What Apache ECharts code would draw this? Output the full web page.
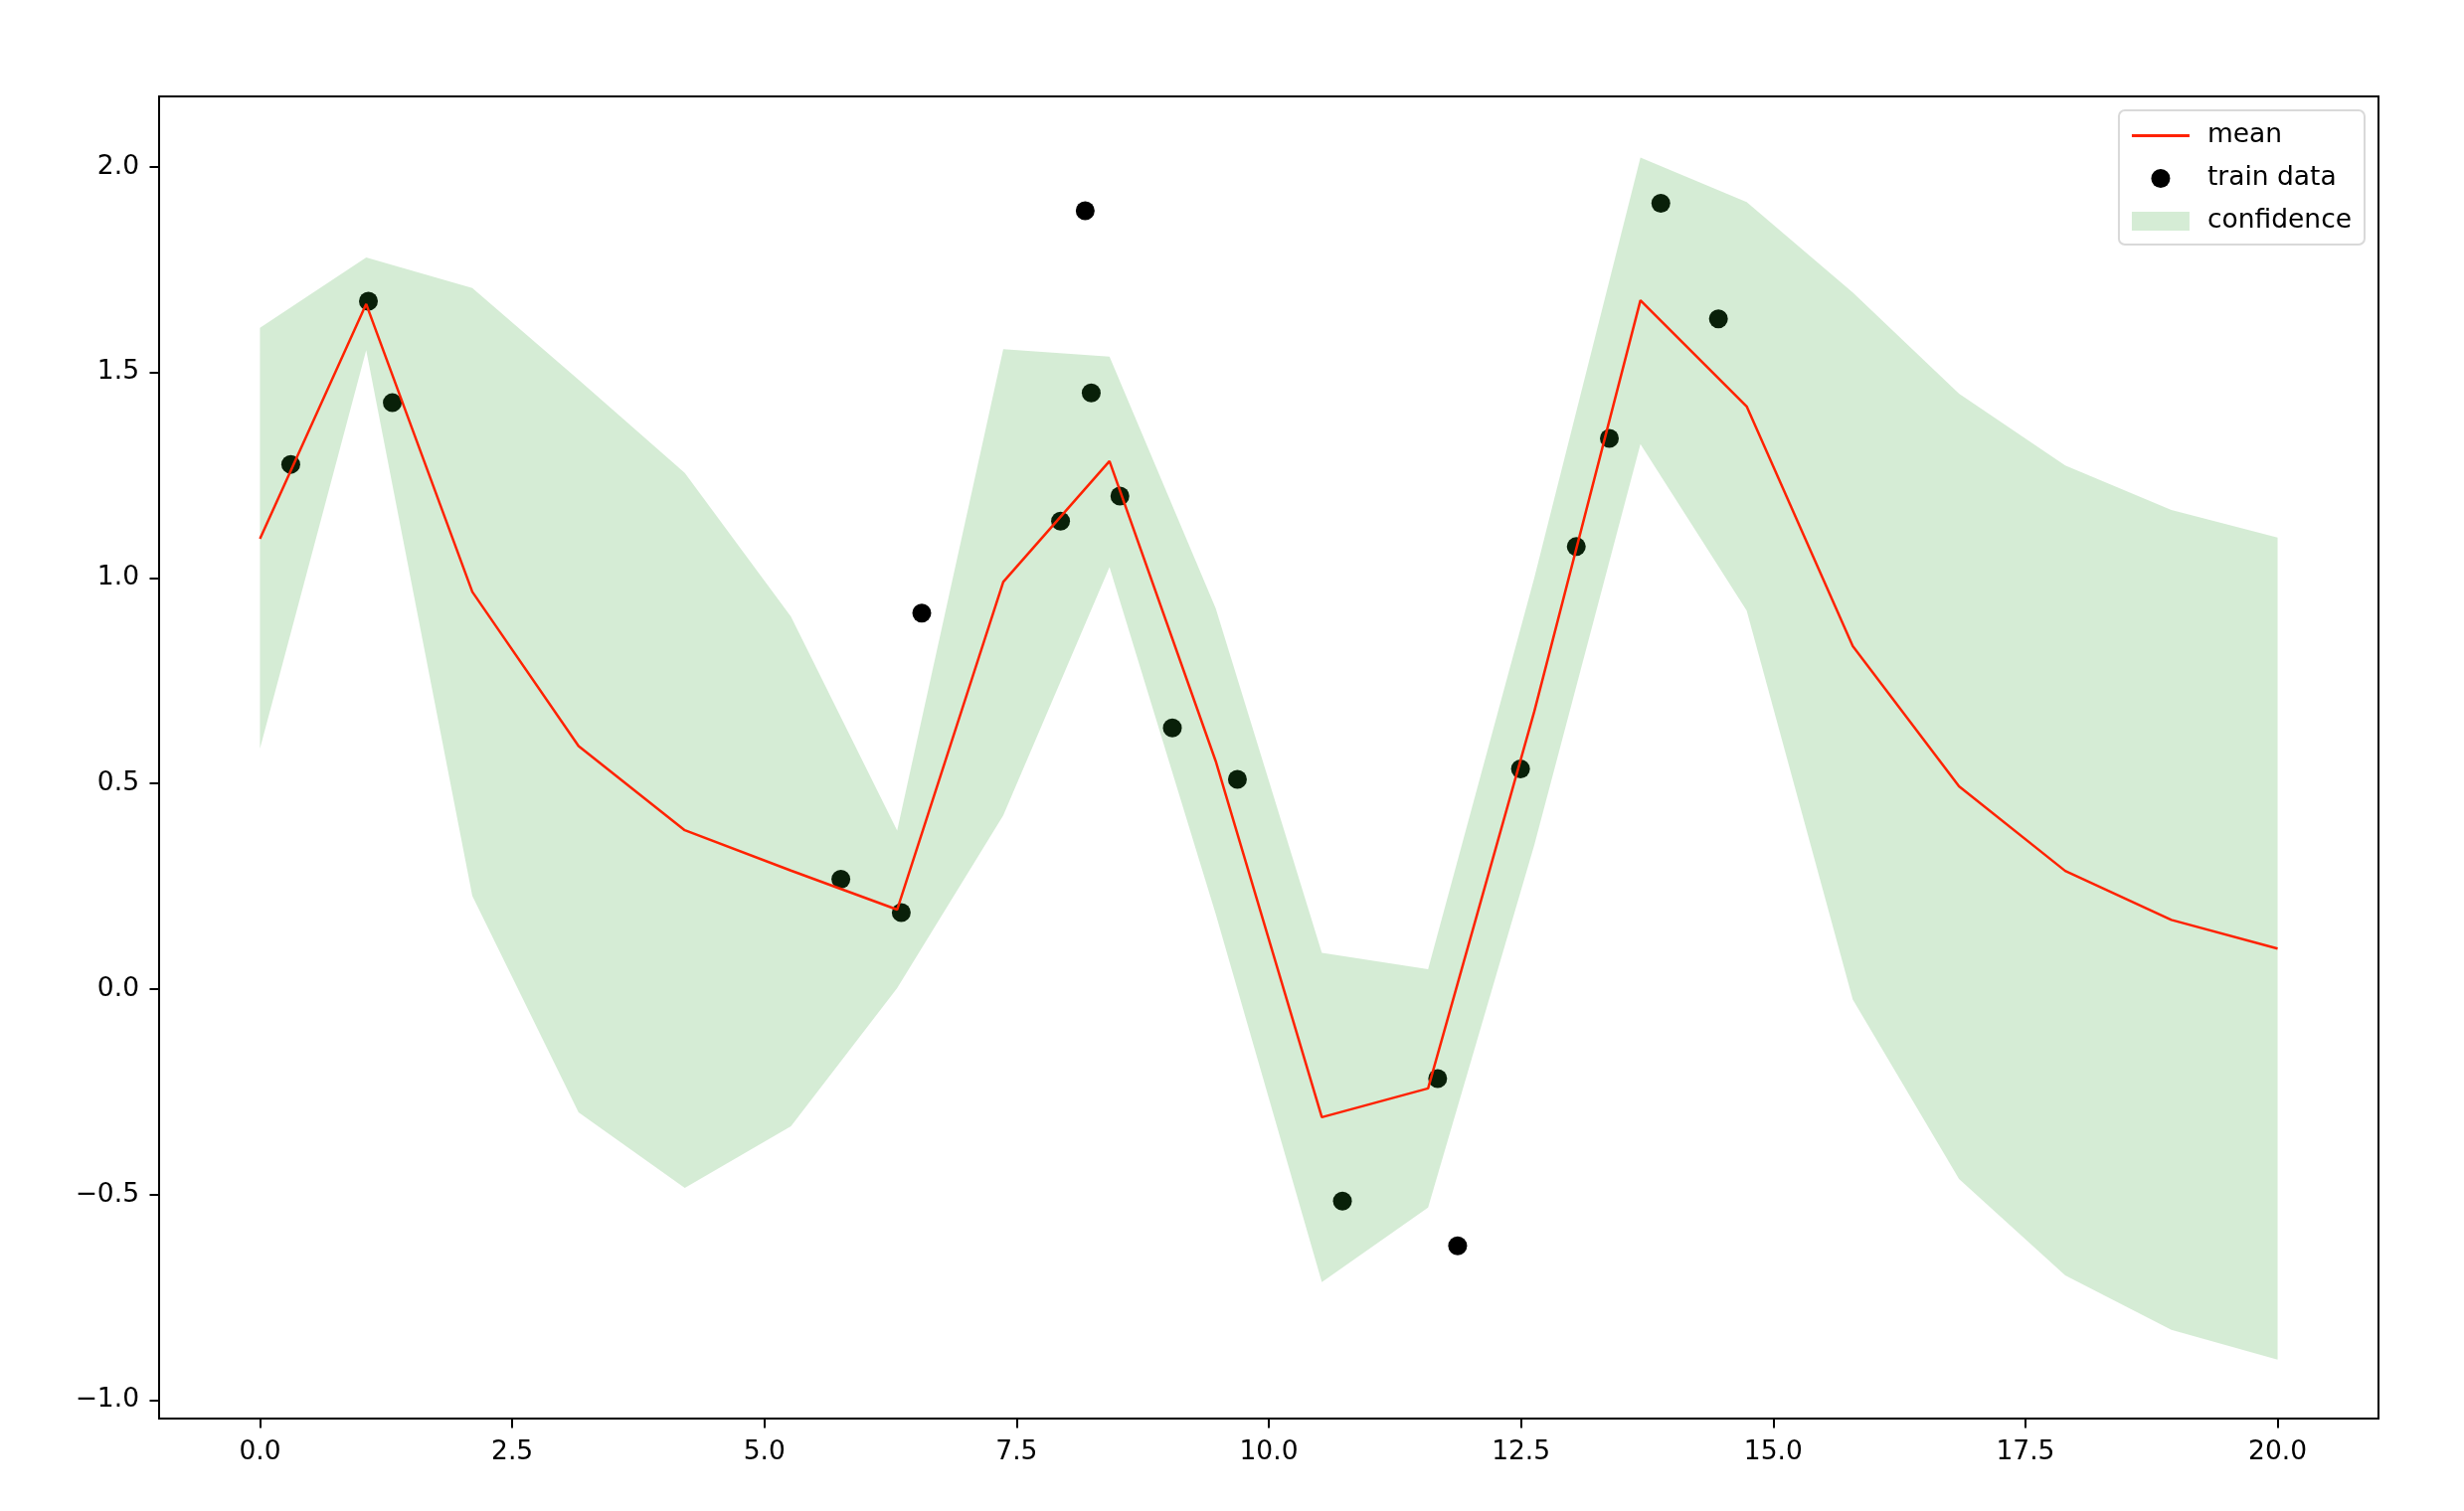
<!DOCTYPE html>
<html><head><meta charset="utf-8">
<script src="https://cdn.jsdelivr.net/npm/echarts@6/dist/echarts.min.js"></script>
<style>html,body{margin:0;padding:0;background:#fff}#c{width:2478px;height:1520px}</style>
</head><body><div id="c"></div>
<script>
// prediction grid (20 points from 0 to 20)
const gridX = [0, 1.053, 2.105, 3.158, 4.211, 5.263, 6.316, 7.368, 8.421, 9.474,
               10.526, 11.579, 12.632, 13.684, 14.737, 15.789, 16.842, 17.895, 18.947, 20];
const meanY = [1.095, 1.666, 0.966, 0.591, 0.386, 0.288, 0.193, 0.990, 1.284, 0.554,
               -0.312, -0.242, 0.675, 1.675, 1.417, 0.834, 0.493, 0.287, 0.168, 0.098];
const upperY = [1.608, 1.779, 1.705, 1.482, 1.255, 0.906, 0.385, 1.556, 1.538, 0.926,
                0.088, 0.048, 1.000, 2.022, 1.914, 1.694, 1.448, 1.273, 1.165, 1.098];
const lowerY = [0.585, 1.554, 0.226, -0.300, -0.484, -0.334, 0.002, 0.422, 1.026, 0.182,
                -0.713, -0.532, 0.350, 1.325, 0.920, -0.026, -0.462, -0.697, -0.829, -0.902];
// training data
const trainX = [0.305, 1.075, 1.312, 5.758, 6.357, 6.560, 7.936, 8.180, 8.240, 8.524,
                9.044, 9.689, 10.730, 11.674, 11.872, 12.495, 13.048, 13.376, 13.886, 14.457];
const trainY = [1.276, 1.673, 1.426, 0.267, 0.186, 0.914, 1.138, 1.893, 1.450, 1.199,
                0.635, 0.510, -0.516, -0.218, -0.625, 0.535, 1.076, 1.339, 1.911, 1.630];
// tick labels
const xTicks = [0, 2.5, 5, 7.5, 10, 12.5, 15, 17.5, 20];
const yTicks = [-1, -0.5, 0, 0.5, 1, 1.5, 2];

const FONT = 'DejaVu Sans';
const RED = '#ff2200';
const FILL = 'rgba(44,160,44,0.2)';
const fmt = v => (v < 0 ? '\u2212' : '') + Math.abs(v).toFixed(1);

const chart = echarts.init(document.getElementById('c'));
chart.setOption({
  animation: false,
  backgroundColor: '#fff',
  grid: { left: 160, right: 86, top: 97, bottom: 93, show: true, borderColor: '#000', borderWidth: 2, backgroundColor: 'transparent' },
  xAxis: {
    type: 'value', min: -1, max: 21,
    splitLine: { show: false },
    axisLine: { show: true, onZero: false, lineStyle: { color: '#000', width: 2 } },
    axisTick: { show: true, inside: false, length: 9.5, lineStyle: { color: '#000', width: 2 }, customValues: xTicks },
    axisLabel: { customValues: xTicks, fontFamily: FONT, fontSize: 26.5, color: '#000', margin: 21, formatter: fmt }
  },
  yAxis: {
    type: 'value', min: -1.045, max: 2.171,
    splitLine: { show: false },
    axisLine: { show: true, onZero: false, lineStyle: { color: '#000', width: 2 } },
    axisTick: { show: true, inside: false, length: 9.5, lineStyle: { color: '#000', width: 2 }, customValues: yTicks },
    axisLabel: { customValues: yTicks, fontFamily: FONT, fontSize: 26.5, color: '#000', margin: 20,
                 padding: [5, 0, 0, 0], formatter: fmt }
  },
  legend: {
    orient: 'vertical', right: 100, top: 111,
    backgroundColor: '#fff', borderColor: '#d9d9d9', borderWidth: 2, borderRadius: 6,
    padding: [12, 13, 10, 13],
    itemWidth: 58, itemHeight: 19, itemGap: 16,
    selectedMode: false,
    textStyle: { fontFamily: FONT, fontSize: 26.5, color: '#000', padding: [0, 0, 0, 13] },
    data: [
      { name: 'mean', icon: 'path://M0,0H58V3H0Z', itemStyle: { color: RED } },
      { name: 'train data', icon: 'circle', itemStyle: { color: '#000', opacity: 1 } },
      { name: 'confidence', icon: 'rect', itemStyle: { color: FILL } }
    ]
  },
  series: [
    {
      name: 'train data', type: 'scatter', z: 1,
      symbol: 'circle', symbolSize: 19,
      itemStyle: { color: '#000', opacity: 1 },
      data: trainX.map((x, i) => [x, trainY[i]])
    },
    {
      name: 'confidence', type: 'custom', z: 2, silent: true,
      itemStyle: { color: FILL },
      encode: { x: 0, y: [1, 2] },
      data: gridX.map((x, i) => [x, lowerY[i], upperY[i]]),
      renderItem: function (params, api) {
        if (params.dataIndex !== 0) return null;
        const pts = [];
        for (let i = 0; i < gridX.length; i++) pts.push(api.coord([gridX[i], upperY[i]]));
        for (let i = gridX.length - 1; i >= 0; i--) pts.push(api.coord([gridX[i], lowerY[i]]));
        return { type: 'polygon', shape: { points: pts }, style: { fill: FILL } };
      }
    },
    {
      name: 'mean', type: 'line', z: 3,
      symbol: 'none',
      itemStyle: { color: RED },
      lineStyle: { color: RED, width: 2.5 },
      data: gridX.map((x, i) => [x, meanY[i]])
    }
  ]
});
</script>
</body></html>
